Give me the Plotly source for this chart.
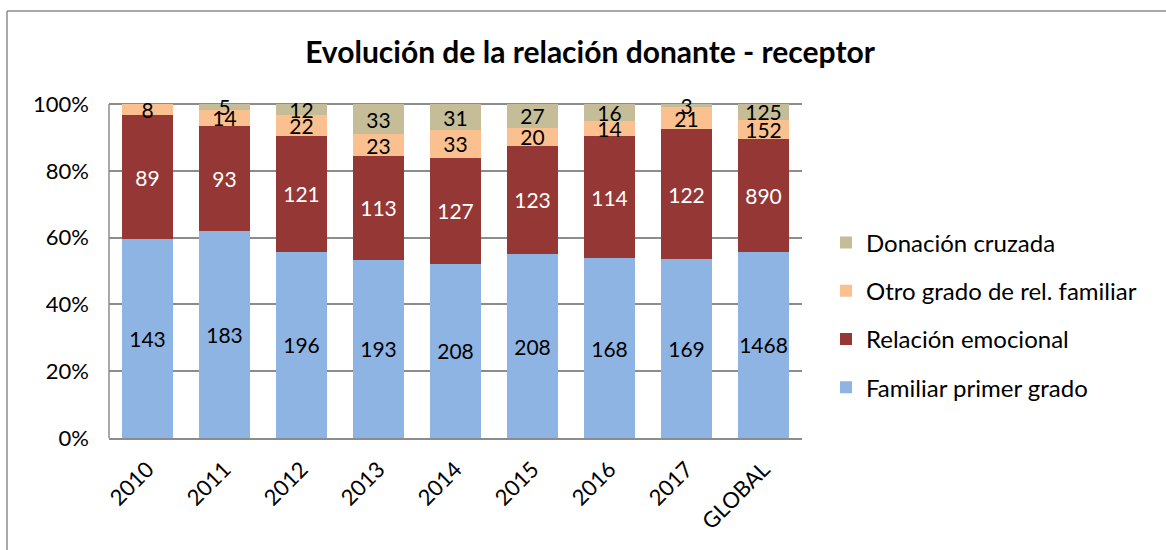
import plotly.graph_objects as go

categories = ["2010", "2011", "2012", "2013", "2014", "2015", "2016", "2017", "GLOBAL"]
familiar_primer_grado = [143, 183, 196, 193, 208, 208, 168, 169, 1468]
relacion_emocional = [89, 93, 121, 113, 127, 123, 114, 122, 890]
otro_grado = [8, 14, 22, 23, 33, 20, 14, 21, 152]
donacion_cruzada = [0, 5, 12, 33, 31, 27, 16, 3, 125]
y_ticks = [0, 20, 40, 60, 80, 100]
y_tick_labels = ["0%", "20%", "40%", "60%", "80%", "100%"]

series = [
    ("Familiar primer grado", familiar_primer_grado, "#8EB4E3", "black", 4),
    ("Relación emocional", relacion_emocional, "#953735", "white", 3),
    ("Otro grado de rel. familiar", otro_grado, "#FAC090", "black", 2),
    ("Donación cruzada", donacion_cruzada, "#C4BD97", "black", 1),
]

FONT = "Lato"

fig = go.Figure()
for i, (name, vals, color, tcolor, rank) in enumerate(series):
    fig.add_trace(go.Bar(
        x=categories, y=vals, name=name,
        marker=dict(color=color, line=dict(width=0)),
        text=[str(v) if v else "" for v in vals],
        textposition="inside", insidetextanchor="middle", textangle=0,
        textfont=dict(color=tcolor, size=21, family=FONT),
        insidetextfont=dict(color=tcolor, size=21, family=FONT),
        legendgroup=f"g{i}", legendrank=rank,
        hoverinfo="skip",
    ))

YMAX = 106
W, H = 1166, 550
L, R, B = 109, 364, 112
ph = (H - B - 104) * YMAX / 100
T = H - B - ph
pw = W - L - R
fx = (7 - L) / pw
fy = (H - B - 11) / ph

fig.update_layout(
    width=W, height=H,
    barmode="stack", barnorm="percent", bargap=0.35,
    margin=dict(l=L, r=R, t=T, b=B),
    paper_bgcolor="white", plot_bgcolor="white",
    font=dict(family=FONT, size=21, color="black"),
    uniformtext=dict(mode="show", minsize=21),
    title=dict(text="<b>Evolución de la relación donante - receptor</b>",
               font=dict(size=30, family=FONT, color="black"),
               x=0.506, xref="container", xanchor="center",
               y=1 - 52 / H, yref="container", yanchor="middle"),
    legend=dict(x=(826 - L) / pw, xanchor="left", y=(H - B - 315) / ph, yanchor="middle",
                traceorder="grouped", tracegroupgap=14,
                font=dict(size=24, family=FONT), bgcolor="rgba(0,0,0,0)"),
    showlegend=True,
)
fig.update_yaxes(range=[0, YMAX], tickmode="array", tickvals=y_ticks, ticktext=y_tick_labels,
                 showgrid=True, gridcolor="#8C8C8C", gridwidth=1.5, showline=False,
                 zeroline=False, ticks="", ticklabelstandoff=19,
                 automargin=False, tickfont=dict(size=22, family=FONT))
fig.update_xaxes(showline=True, linecolor="#8C8C8C", linewidth=1.5, tickangle=-45,
                 ticks="", automargin=False, tickfont=dict(size=22, family=FONT),
                 ticklabelstandoff=8)

# left axis line, from 0% to 100%
fig.add_shape(type="line", xref="paper", yref="y", x0=0, x1=0, y0=0, y1=y_ticks[-1],
              line=dict(color="#8C8C8C", width=1.5), layer="above")
# outer chart frame
fig.add_shape(type="line", xref="paper", yref="paper", x0=fx, x1=fx, y0=-1, y1=fy,
              line=dict(color="#8C8C8C", width=1.5))
fig.add_shape(type="line", xref="paper", yref="paper", x0=fx, x1=3, y0=fy, y1=fy,
              line=dict(color="#8C8C8C", width=1.5))

fig.write_html("out.html", config={"displayModeBar": False},
               post_script="document.body.style.margin='0';")
